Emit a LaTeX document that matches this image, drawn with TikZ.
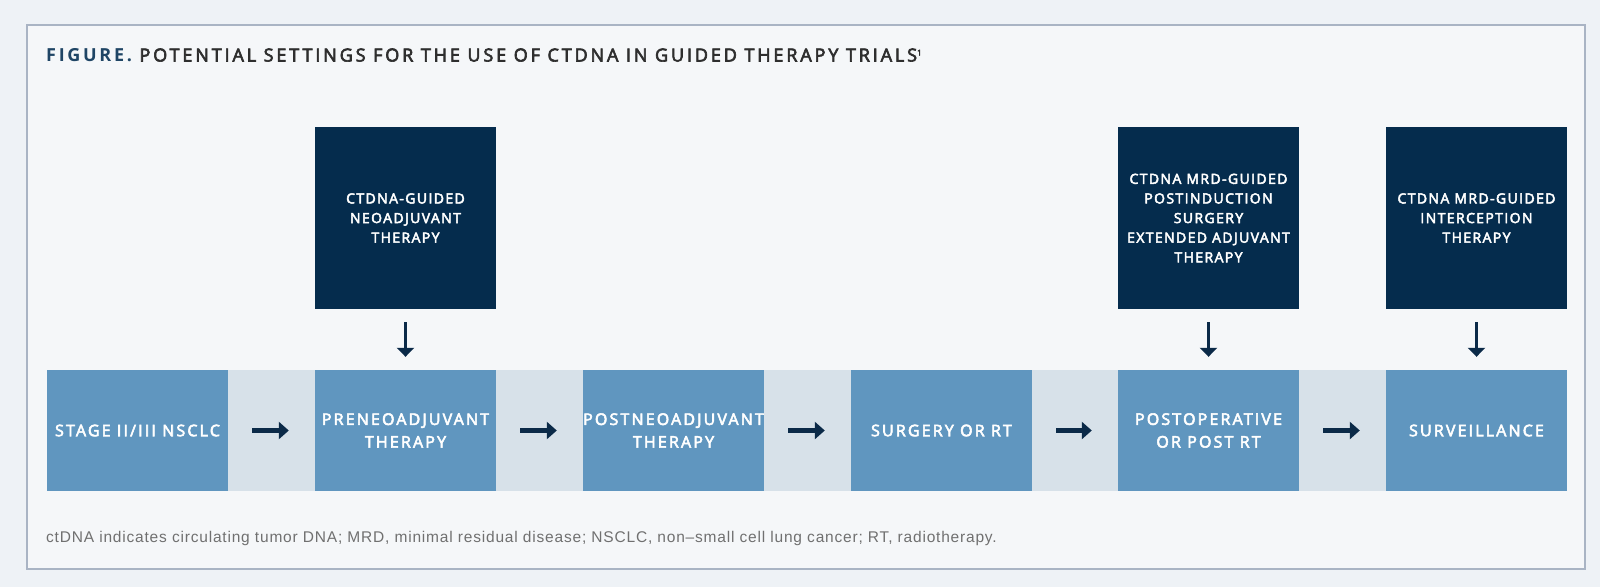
\documentclass[tikz,border=0pt]{standalone}
\usepackage{fontspec}
\setmainfont{Open Sans}
\newfontfamily\boxfont[LetterSpace=13.5, FakeBold=3.5]{Open Sans}
\newfontfamily\guidefont[LetterSpace=10, FakeBold=3.5]{Open Sans}
\newfontfamily\titlefont[LetterSpace=16, FakeBold=3.5]{Open Sans}
\newfontfamily\titleboldfont[LetterSpace=15]{Open Sans Bold}
\newfontfamily\notefont[LetterSpace=5.2]{Liberation Sans}
\usetikzlibrary{arrows.meta}
\definecolor{pagebg}{HTML}{EEF2F6}
\definecolor{panel}{HTML}{F5F7F9}
\definecolor{framec}{HTML}{A9B4C4}
\definecolor{bandc}{HTML}{D7E1E9}
\definecolor{boxc}{HTML}{6096BF}
\definecolor{darkc}{HTML}{052C4D}
\definecolor{arrowc}{HTML}{0B2A48}
\definecolor{titleblue}{HTML}{1F4565}
\definecolor{titlegray}{HTML}{2E2E2E}
\definecolor{notegray}{HTML}{707070}
\begin{document}
\begin{tikzpicture}[x=1pt,y=-1pt,
  stagebox/.style={rectangle, fill=boxc, minimum width=181pt, minimum height=121pt, inner sep=0pt,
    text=white, align=center, font=\boxfont\fontsize{16}{22.7}\selectfont},
  guidebox/.style={rectangle, fill=darkc, minimum width=181pt, minimum height=182pt, inner sep=0pt,
    text=white, align=center, font=\guidefont\fontsize{14}{19.6}\selectfont},
  flowarrow/.style={arrowc, line width=4.5pt, -{Triangle[length=10pt,width=17pt]}, shorten <=24pt, shorten >=26pt},
  downarrow/.style={arrowc, line width=3.5pt, -{Triangle[length=9pt,width=17pt]}, shorten <=13pt, shorten >=13pt}
]
\useasboundingbox (0,0) rectangle (1600,587);
\fill[pagebg] (0,0) rectangle (1600,587);
\draw[framec, line width=1.5pt, fill=panel] (27,25) rectangle (1585,569);
\fill[bandc] (47,370) rectangle (1567,491);

\node[anchor=base west, inner sep=0pt, font=\titlefont\fontsize{18}{20}\selectfont] (title) at (46,61.5)
  {\textcolor{titleblue}{\titleboldfont FIGURE.} \textcolor{titlegray}{POTENTIAL SETTINGS FOR THE USE OF CTDNA IN GUIDED THERAPY TRIALS\raisebox{6pt}{\fontsize{8}{8}\selectfont 1}}};

\node[stagebox] (s1) at (137.5,430.5) {STAGE II/III NSCLC};
\node[stagebox] (s2) at (405.5,430.5) {PRENEOADJUVANT\\THERAPY};
\node[stagebox] (s3) at (673.5,430.5) {POSTNEOADJUVANT\\THERAPY};
\node[stagebox] (s4) at (941.5,430.5) {SURGERY OR RT};
\node[stagebox] (s5) at (1208.5,430.5) {POSTOPERATIVE\\OR POST RT};
\node[stagebox] (s6) at (1476.5,430.5) {SURVEILLANCE};

\node[guidebox] (g1) at (405.5,218) {CTDNA-GUIDED\\NEOADJUVANT\\THERAPY};
\node[guidebox] (g2) at (1208.5,218) {CTDNA MRD-GUIDED\\POSTINDUCTION\\SURGERY\\EXTENDED ADJUVANT\\THERAPY};
\node[guidebox] (g3) at (1476.5,218) {CTDNA MRD-GUIDED\\INTERCEPTION\\THERAPY};

\draw[flowarrow] (s1.east) -- (s2.west);
\draw[flowarrow] (s2.east) -- (s3.west);
\draw[flowarrow] (s3.east) -- (s4.west);
\draw[flowarrow] (s4.east) -- (s5.west);
\draw[flowarrow] (s5.east) -- (s6.west);

\draw[downarrow] (g1.south) -- (s2.north);
\draw[downarrow] (g2.south) -- (s5.north);
\draw[downarrow] (g3.south) -- (s6.north);

\node[anchor=base west, inner sep=0pt, text=notegray, font=\notefont\fontsize{15.5}{18}\selectfont] (note) at (46,542.7)
  {ctDNA indicates circulating tumor DNA; MRD, minimal residual disease; NSCLC, non–small cell lung cancer; RT, radiotherapy.};
\end{tikzpicture}
\end{document}
